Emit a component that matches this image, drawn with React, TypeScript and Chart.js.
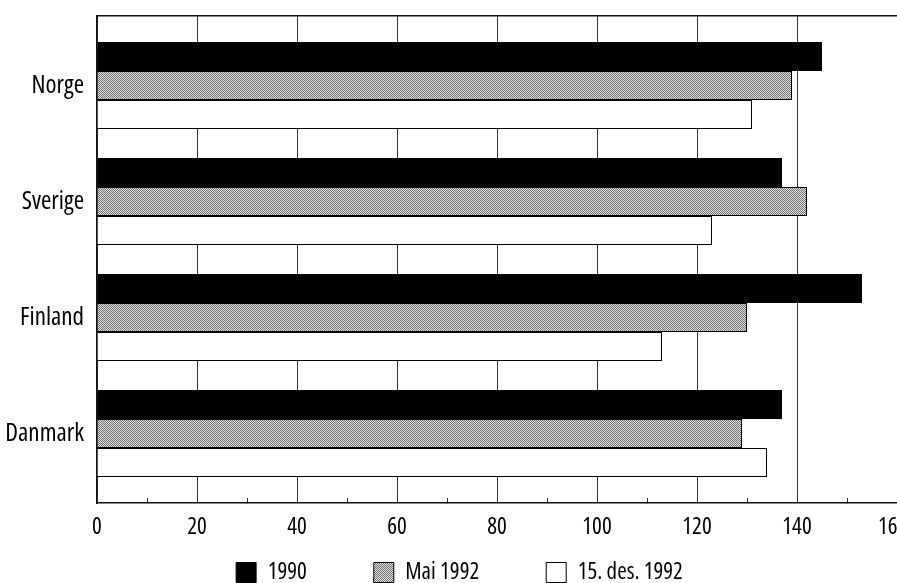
import React, { useEffect, useRef } from 'react';
import { Chart, registerables } from 'chart.js';

Chart.register(...registerables);

const categories = ['Norge', 'Sverige', 'Finland', 'Danmark'];
const seriesNames = ['1990', 'Mai 1992', '15. des. 1992'];
const values1990 = [145, 137, 153, 137];
const valuesMai1992 = [139, 142, 130, 129];
const valuesDes1992 = [131, 123, 113, 134];
const xTickLabels = ['0', '20', '40', '60', '80', '100', '120', '140', '160  '];

const FONT_FAMILY = "'Open Sans', 'Roboto Condensed', sans-serif";

export default function App() {
  const canvasRef = useRef<HTMLCanvasElement | null>(null);

  useEffect(() => {
    document.body.style.margin = '0';
    const canvas = canvasRef.current;
    if (!canvas) return;
    const ctx = canvas.getContext('2d')!;

    const tile = document.createElement('canvas');
    tile.width = 2;
    tile.height = 2;
    const tg = tile.getContext('2d')!;
    tg.fillStyle = '#e2e2e2';
    tg.fillRect(0, 0, 2, 2);
    tg.fillStyle = '#707070';
    tg.fillRect(0, 0, 1, 1);
    tg.fillRect(1, 1, 1, 1);
    const grayPattern = ctx.createPattern(tile, 'repeat')!;

    const toPoints = (vals: number[]) => categories.map((_, i) => ({ x: vals[i], y: i }));
    const yFont = { family: FONT_FAMILY, size: 25, weight: 'condensed' };
    const xFont = { family: FONT_FAMILY, size: 23, weight: 'condensed' };
    const legendFont = { family: FONT_FAMILY, size: 23, weight: 'condensed' };

    const legendShift = {
      id: 'legendShift',
      afterLayout(chart: any) {
        const lg = chart.legend;
        if (!lg) return;
        lg.top -= 54;
        lg.bottom -= 54;
        lg.left += 10;
        lg.right += 10;
      },
    };

    const chart = new Chart(canvas, {
      type: 'bar',
      data: {
        datasets: [
          { label: seriesNames[0], data: toPoints(values1990), backgroundColor: '#000000', borderColor: '#000000', borderWidth: 1 },
          { label: seriesNames[1], data: toPoints(valuesMai1992), backgroundColor: grayPattern as any, borderColor: '#000000', borderWidth: 1 },
          { label: seriesNames[2], data: toPoints(valuesDes1992), backgroundColor: '#ffffff', borderColor: '#000000', borderWidth: 1 },
        ],
      },
      plugins: [legendShift],
      options: {
        indexAxis: 'y',
        responsive: false,
        animation: false,
        categoryPercentage: 0.75,
        barPercentage: 1,
        layout: { padding: { left: 0, right: -2, top: 16, bottom: -65 } },
        plugins: {
          legend: {
            position: 'bottom',
            labels: { font: legendFont, color: '#000000', boxWidth: 20, boxHeight: 20, padding: 67 },
          },
          tooltip: { enabled: false },
        },
        scales: {
          x: {
            type: 'linear',
            position: 'bottom',
            min: 0,
            max: 160,
            ticks: {
              stepSize: 10,
              autoSkip: false,
              maxRotation: 0,
              font: xFont,
              color: '#000000',
              padding: 16,
              callback: (v: any) => (Number(v) % 20 === 0 ? xTickLabels[Number(v) / 20] : ''),
            },
            grid: {
              color: (c: any) => (c.tick && c.tick.value % 20 === 0 ? '#333333' : 'rgba(0,0,0,0)'),
              tickColor: '#333333',
              tickLength: -5,
              lineWidth: 1,
            },
            border: { color: '#111111', width: 1.5 },
            afterFit: (s: any) => {
              s.height = 45;
              s.paddingLeft = 0;
              s.paddingRight = 0;
            },
          },
          xTop: {
            type: 'linear',
            position: 'top',
            display: true,
            grid: { display: false, drawTicks: false },
            ticks: { display: false },
            border: { color: '#111111', width: 1.5 },
            afterFit: (s: any) => {
              s.height = 0;
              s.paddingLeft = 0;
              s.paddingRight = 0;
            },
          },
          y: {
            type: 'linear',
            min: -0.6,
            max: 3.6,
            reverse: true,
            offset: false,
            afterBuildTicks: (s: any) => {
              s.ticks = categories.map((_, i) => ({ value: i }));
            },
            ticks: {
              font: yFont,
              color: '#000000',
              padding: 13,
              callback: (v: any) => categories[Number(v)] ?? '',
            },
            grid: { display: false, drawTicks: false, offset: false },
            border: { color: '#111111', width: 1.5 },
            afterFit: (s: any) => {
              s.width = 97;
              s.paddingTop = 0;
              s.paddingBottom = 0;
            },
          },
        },
      } as any,
    });

    return () => chart.destroy();
  }, []);

  return (
    <div style={{ width: 897, height: 583 }}>
      <canvas ref={canvasRef} width={897} height={583} />
    </div>
  );
}
